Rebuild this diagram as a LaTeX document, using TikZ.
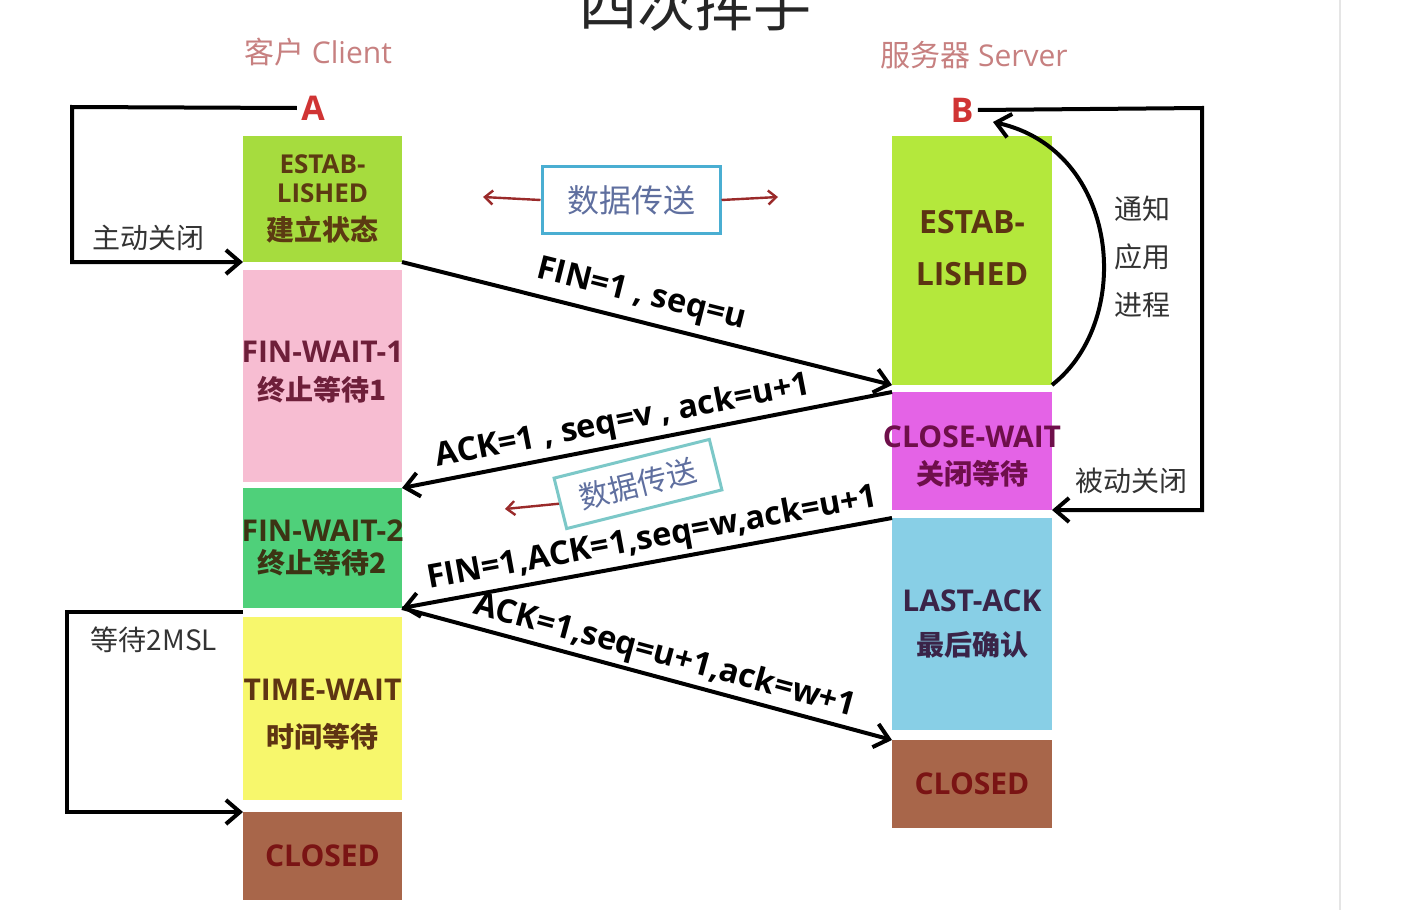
\documentclass[tikz,border=0pt]{standalone}
\usepackage{fontspec}
\setmainfont{Open Sans}
\newfontfamily\cjk{Noto Sans CJK SC}
\usetikzlibrary{arrows.meta}
\definecolor{estA}{HTML}{A6DC3E}
\definecolor{estB}{HTML}{B4E83C}
\definecolor{fwone}{HTML}{F7BDD2}
\definecolor{fwtwo}{HTML}{4FD07A}
\definecolor{twait}{HTML}{F7F76C}
\definecolor{closedc}{HTML}{A8664A}
\definecolor{cwait}{HTML}{E463E6}
\definecolor{lack}{HTML}{88CFE6}
\definecolor{tAone}{HTML}{5C3A12}
\definecolor{tAtwo}{HTML}{6E1F3A}
\definecolor{tAthree}{HTML}{3C3414}
\definecolor{tAfour}{HTML}{5E3412}
\definecolor{tclosed}{HTML}{7A1414}
\definecolor{tBone}{HTML}{5C3412}
\definecolor{tBtwo}{HTML}{6E0F4A}
\definecolor{tBthree}{HTML}{3A2448}
\definecolor{peer}{HTML}{C78080}
\definecolor{letter}{HTML}{D03434}
\definecolor{dborder}{HTML}{4AAED2}
\definecolor{dbordertwo}{HTML}{7CC8C8}
\definecolor{dtext}{HTML}{5F6F9F}
\definecolor{darrow}{HTML}{9A2A2A}
\definecolor{side}{HTML}{333333}
\begin{document}
\begin{tikzpicture}[x=0.5pt,y=-0.5pt,
  stbox/.style={inner sep=0pt, outer sep=0pt, anchor=north west, draw=none},
  sttext/.style={inner sep=0pt, align=center, font=\fontsize{15}{18}\selectfont\bfseries},
  msg/.style={line width=2pt, -{Straight Barb[length=7pt,width=12pt,line width=2pt]}},
  lbl/.style={sloped, inner sep=0pt, font=\fontsize{16.3}{18}\selectfont\bfseries},
  loopline/.style={line width=2pt, line join=miter, -{Straight Barb[length=7pt,width=12pt,line width=2pt]}},
  sidelbl/.style={font=\cjk\fontsize{14}{16}\selectfont, text=side},
  databox/.style={draw=dborder, line width=1.5pt, fill=white, text=dtext,
    font=\cjk\fontsize{16}{18}\selectfont, inner sep=0pt},
  dataarrow/.style={draw=darrow, line width=1.2pt, -{Straight Barb[length=4pt,width=7pt,line width=1.2pt]}}
]
\useasboundingbox (0,0) rectangle (1404,910);
\clip (0,0) rectangle (1404,910);
\fill[white] (0,0) rectangle (1404,910);
\draw[black!10, line width=0.6pt] (1340,0) -- (1340,910);

% title
\node[anchor=base, inner sep=0pt, font=\cjk\fontsize{29}{32}\selectfont, text=black!85] (title) at (695,26) {四次挥手};

% peers
\node[text=peer, font=\fontsize{15}{18}\selectfont] (client) at (318,52) {{\cjk 客户} Client};
\node[text=peer, font=\fontsize{15}{18}\selectfont] (server) at (974,55) {{\cjk 服务器} Server};
\node[text=letter, font=\fontsize{17}{20}\selectfont\bfseries, inner sep=2pt] (A) at (313,108) {A};
\node[text=letter, font=\fontsize{17}{20}\selectfont\bfseries, inner sep=2pt] (B) at (962,110) {B};

% client states
\node[stbox, fill=estA, minimum width=79.5pt, minimum height=63pt] (A1) at (243,136) {};
\node[sttext, text=tAone, font=\fontsize{13}{14.5}\selectfont\bfseries] (A1t) at (A1.center)
  {ESTAB-\\LISHED\\[4.5pt]{\cjk\fontsize{14}{14}\selectfont 建立状态}};
\node[stbox, fill=fwone, minimum width=79.5pt, minimum height=106pt] (A2) at (243,270) {};
\node[sttext, text=tAtwo, yshift=2pt] (A2t) at (A2.center)
  {FIN-WAIT-1\\[1pt]{\cjk\fontsize{14}{14}\selectfont 终止等待1}};
\node[stbox, fill=fwtwo, minimum width=79.5pt, minimum height=60pt] (A3) at (243,488) {};
\node[sttext, text=tAthree] (A3t) at (A3.center)
  {FIN-WAIT-2\\[-2pt]{\cjk\fontsize{14}{14}\selectfont 终止等待2}};
\node[stbox, fill=twait, minimum width=79.5pt, minimum height=91.5pt] (A4) at (243,617) {};
\node[sttext, text=tAfour, yshift=-3pt] (A4t) at (A4.center)
  {TIME-WAIT\\[5.5pt]{\cjk\fontsize{14}{14}\selectfont 时间等待}};
\node[stbox, fill=closedc, minimum width=79.5pt, minimum height=44pt] (A5) at (243,812) {};
\node[sttext, text=tclosed] (A5t) at (A5.center) {CLOSED};

% server states
\node[stbox, fill=estB, minimum width=80pt, minimum height=124.5pt] (B1) at (892,136) {};
\node[sttext, text=tBone, font=\fontsize{16}{18}\selectfont\bfseries, yshift=6pt] (B1t) at (B1.center)
  {ESTAB-\\[8pt]LISHED};
\node[stbox, fill=cwait, minimum width=80pt, minimum height=59pt] (B2) at (892,392) {};
\node[sttext, text=tBtwo, yshift=-2.5pt] (B2t) at (B2.center)
  {CLOSE-WAIT\\[0.5pt]{\cjk\fontsize{14}{14}\selectfont 关闭等待}};
\node[stbox, fill=lack, minimum width=80pt, minimum height=106pt] (B3) at (892,518) {};
\node[sttext, text=tBthree] (B3t) at (B3.center)
  {LAST-ACK\\[4pt]{\cjk\fontsize{14}{14}\selectfont 最后确认}};
\node[stbox, fill=closedc, minimum width=80pt, minimum height=44pt] (B4) at (892,740) {};
\node[sttext, text=tclosed] (B4t) at (B4.center) {CLOSED};

% loops
\coordinate (lc) at (72,107);
\draw[loopline] (A.west) -- (lc) |- (A1.south west);
\node[sidelbl] (activeclose) at (148,238) {主动关闭};

\coordinate (rc) at (1202,108);
\draw[loopline] (B.east) -- (rc) |- (B2.south east);
\node[sidelbl] (passiveclose) at (1131,481) {被动关闭};

\coordinate (m0) at (243,612);
\coordinate (mc) at (67,612);
\draw[loopline] (m0) -- (mc) |- (A5.north west);
\node[sidelbl] (msl) at (154,640) {等待2MSL};

\coordinate (btip) at (993,122);
\draw[loopline] (B1.south east) .. controls (1135,320) and (1120,150) .. (btip);
\node[sidelbl] (n1) at (1142,209) {通知};
\node[sidelbl] (n2) at (1142,257) {应用};
\node[sidelbl] (n3) at (1142,305) {进程};

% data transfer
\node[databox, minimum width=89pt, minimum height=33.5pt] (d1) at (631,200) {数据传送};
\coordinate (d1l) at (483,197);
\coordinate (d1r) at (778,197);
\draw[dataarrow] (d1.west) -- (d1l);
\draw[dataarrow] (d1.east) -- (d1r);

\node[databox, draw=dbordertwo, rotate=14, minimum width=80pt, minimum height=26pt,
  font=\cjk\fontsize{15}{17}\selectfont] (d2) at (638,484) {数据传送};
\coordinate (d2l) at (505,509);
\draw[dataarrow] (d2.west) -- (d2l);

% messages
\draw[msg] (A1.south east) -- node[lbl, pos=0.475, above=4pt] {FIN=1\hspace{4pt},\hspace{4pt}seq=u} (B1.south west);
\draw[msg] (B2.north west) -- node[lbl, pos=0.54, above=2pt] {ACK=1 , seq=v , ack=u+1} (A3.north east);
\draw[msg] (B3.north west) -- node[lbl, pos=0.48, above=2pt] {FIN=1,ACK=1,seq=w,ack=u+1} (A3.south east);
\draw[msg] (A3.south east) -- node[lbl, pos=0.525, above=1.5pt] {ACK=1,seq=u+1,ack=w+1} (B4.north west);
\end{tikzpicture}
\end{document}
